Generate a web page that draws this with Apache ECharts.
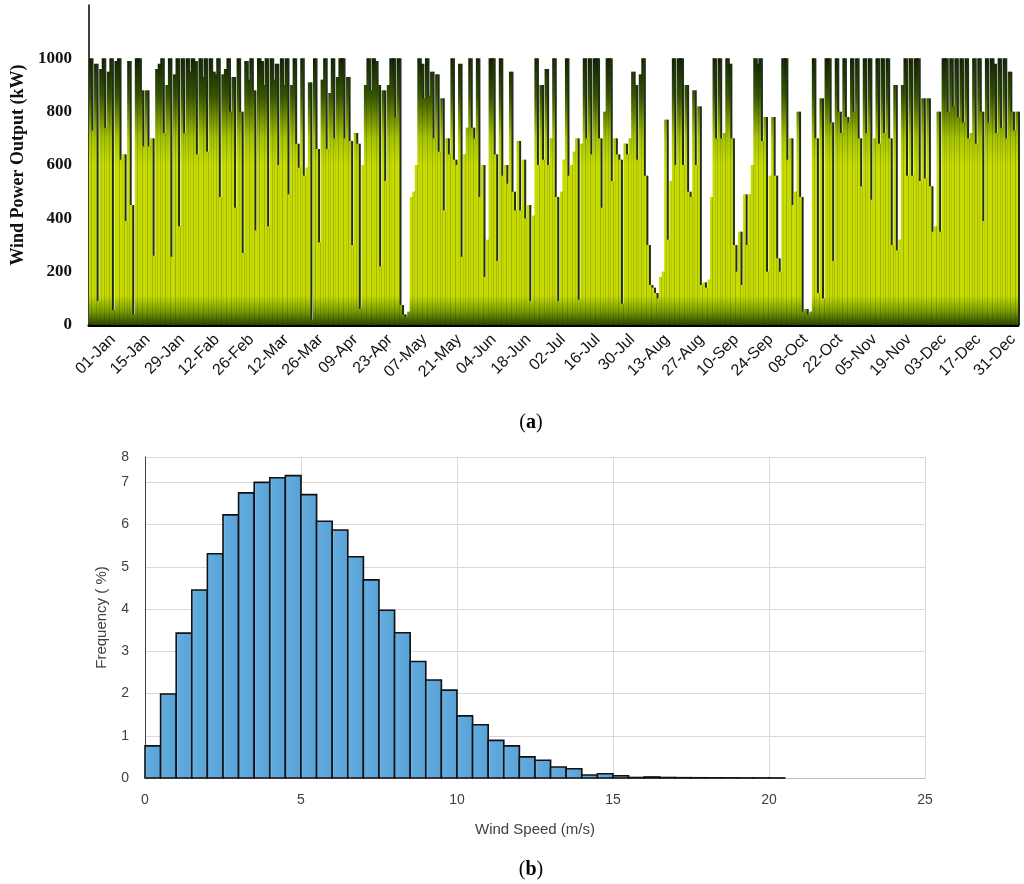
<!DOCTYPE html>
<html>
<head>
<meta charset="utf-8">
<title>Wind power output and wind speed distribution</title>
<script src="https://cdn.jsdelivr.net/npm/echarts@6/dist/echarts.min.js"></script>
<style>
  html, body { margin: 0; padding: 0; background: #fff; }
  #chart { width: 1024px; height: 884px; }
</style>
</head>
<body>
<div id="chart"></div>
<script>
// (a) daily wind power output, kW (one value per day)
var power = [
  1000, 730, 980, 90, 960, 1000, 740,
  950, 1000, 55, 990, 1000, 620, 640,
  390, 990, 450, 40, 1000, 1000, 880,
  670, 880, 670, 700, 260, 960, 980,
  1000, 720, 900, 1000, 256, 940, 1000,
  370, 1000, 720, 1000, 950, 1000, 990,
  640, 1000, 930, 1000, 650, 1000, 950,
  940, 1000, 480, 940, 960, 1000, 800,
  930, 440, 1000, 800, 270, 990, 920,
  1000, 880, 355, 1000, 990, 900, 1000,
  370, 1000, 920, 980, 600, 1000, 900,
  1000, 490, 900, 1000, 680, 590, 1000,
  560, 590, 910, 20, 1000, 660, 310,
  920, 1000, 660, 870, 1000, 700, 930,
  1000, 1000, 700, 930, 690, 300, 720,
  680, 60, 600, 900, 1000, 880, 1000,
  990, 900, 220, 880, 540, 900, 1000,
  1000, 780, 1000, 75, 40, 30, 50,
  480, 500, 600, 1000, 980, 850, 1000,
  860, 950, 700, 940, 650, 850, 430,
  700, 640, 1000, 620, 600, 980, 256,
  640, 740, 1000, 740, 700, 1000, 480,
  600, 180, 320, 1000, 1000, 640, 240,
  1000, 560, 600, 530, 950, 500, 430,
  690, 430, 620, 400, 450, 90, 410,
  1000, 600, 900, 620, 960, 600, 700,
  1000, 480, 90, 500, 620, 1000, 560,
  600, 650, 700, 95, 680, 1000, 700,
  1000, 640, 1000, 1000, 700, 440, 800,
  1000, 1000, 540, 700, 640, 620, 80,
  680, 640, 700, 950, 900, 620, 940,
  1000, 560, 300, 150, 140, 120, 100,
  180, 200, 770, 320, 540, 1000, 600,
  1000, 1000, 600, 900, 500, 480, 880,
  600, 820, 150, 160, 140, 170, 480,
  1000, 700, 1000, 700, 720, 1000, 980,
  700, 300, 200, 350, 150, 490, 300,
  490, 600, 1000, 980, 1000, 690, 780,
  200, 560, 780, 560, 250, 200, 1000,
  1000, 620, 700, 450, 500, 800, 480,
  50, 60, 40, 50, 1000, 700, 120,
  850, 100, 1000, 1000, 760, 240, 1000,
  800, 720, 1000, 780, 760, 1000, 800,
  1000, 700, 520, 1000, 720, 1000, 470,
  700, 1000, 680, 1000, 720, 1000, 700,
  300, 900, 280, 320, 900, 1000, 560,
  1000, 560, 1000, 1000, 540, 850, 550,
  850, 520, 350, 370, 800, 350, 1000,
  1000, 800, 1000, 820, 1000, 780, 1000,
  760, 1000, 700, 720, 1000, 680, 1000,
  800, 390, 1000, 760, 1000, 980, 720,
  1000, 740, 1000, 700, 950, 800, 730,
  800
];

// x tick labels of panel (a), as printed (including "12-Fab")
var dateLabels = ['01-Jan', '15-Jan', '29-Jan', '12-Fab', '26-Feb', '12-Mar', '26-Mar',
  '09-Apr', '23-Apr', '07-May', '21-May', '04-Jun', '18-Jun', '02-Jul', '16-Jul',
  '30-Jul', '13-Aug', '27-Aug', '10-Sep', '24-Sep', '08-Oct', '22-Oct', '05-Nov',
  '19-Nov', '03-Dec', '17-Dec', '31-Dec'];

// (b) wind speed histogram: lower bin edge (m/s) and frequency (%)
var speedBins = [0, 0.5, 1, 1.5, 2, 2.5, 3, 3.5, 4, 4.5, 5, 5.5, 6, 6.5, 7, 7.5, 8, 8.5, 9, 9.5,
  10, 10.5, 11, 11.5, 12, 12.5, 13, 13.5, 14, 14.5, 15, 15.5, 16, 16.5, 17, 17.5, 18, 18.5,
  19, 19.5, 20];
var frequency = [0.76, 1.99, 3.43, 4.45, 5.31, 6.23, 6.75, 7.0, 7.11, 7.16, 6.71, 6.08, 5.87,
  5.24, 4.69, 3.97, 3.44, 2.76, 2.32, 2.08, 1.47, 1.26, 0.89, 0.76, 0.5, 0.42, 0.26, 0.22,
  0.07, 0.1, 0.055, 0.012, 0.025, 0.012, 0.008, 0.006, 0.005, 0.004, 0.003, 0.003, 0.002];
var binWidth = 0.5;

// one category per day of the year
var monthNames = ['Jan', 'Feb', 'Mar', 'Apr', 'May', 'Jun', 'Jul', 'Aug', 'Sep', 'Oct', 'Nov', 'Dec'];
var days = [];
for (var i = 0; i < power.length; i++) {
  var d = new Date(2013, 0, 1 + i);
  days.push(('0' + d.getDate()).slice(-2) + '-' + monthNames[d.getMonth()]);
}

var histData = [];
for (var j = 0; j < speedBins.length; j++) {
  histData.push([speedBins[j], speedBins[j] + binWidth, frequency[j]]);
}

var chart = echarts.init(document.getElementById('chart'));

var greenFill = new echarts.graphic.LinearGradient(0, 58, 0, 325, [
  { offset: 0, color: '#0f1f00' },
  { offset: 0.14, color: '#365400' },
  { offset: 0.3, color: '#a8c400' },
  { offset: 0.4, color: '#c8dc00' },
  { offset: 0.89, color: '#c8dc00' },
  { offset: 0.95, color: '#789c00' },
  { offset: 1, color: '#284400' }
], true);

var blueFill = new echarts.graphic.LinearGradient(0, 0, 1, 0, [
  { offset: 0, color: '#8cc8ee' },
  { offset: 0.18, color: '#62abde' },
  { offset: 0.85, color: '#5aa3d7' },
  { offset: 1, color: '#3f86bd' }
]);

function renderBin(params, api) {
  var topLeft = api.coord([api.value(0), api.value(2)]);
  var bottomRight = api.coord([api.value(1), 0]);
  return {
    type: 'rect',
    shape: {
      x: topLeft[0],
      y: topLeft[1],
      width: bottomRight[0] - topLeft[0],
      height: bottomRight[1] - topLeft[1]
    },
    style: { fill: blueFill, stroke: '#111', lineWidth: 1.6 }
  };
}

var option = {
  animation: false,
  backgroundColor: '#fff',
  grid: [
    { left: 89, right: 6, top: 5, bottom: 559 },
    { left: 113, right: 11, top: 290, bottom: 557 },
    { left: 145, right: 99, top: 457, bottom: 106 }
  ],
  xAxis: [
    {
      gridIndex: 0,
      type: 'category',
      data: days,
      axisLine: { lineStyle: { color: '#000', width: 3 } },
      axisTick: { show: false },
      axisLabel: { show: false }
    },
    {
      gridIndex: 1,
      type: 'category',
      data: dateLabels,
      boundaryGap: false,
      axisLine: { show: false },
      axisTick: { show: false },
      axisLabel: {
        interval: 0,
        rotate: 45,
        margin: 10,
        fontSize: 16,
        fontFamily: 'Liberation Sans',
        color: '#111'
      }
    },
    {
      gridIndex: 2,
      type: 'value',
      min: 0,
      max: 25,
      interval: 5,
      name: 'Wind Speed (m/s)',
      nameLocation: 'middle',
      nameGap: 44,
      nameTextStyle: { fontSize: 15, fontFamily: 'Liberation Sans', color: '#404040' },
      axisLine: { lineStyle: { color: '#bfbfbf' } },
      axisTick: { show: false },
      axisLabel: { fontSize: 14, fontFamily: 'Liberation Sans', color: '#404040', margin: 15 },
      splitLine: { show: true, lineStyle: { color: '#d9d9d9' } }
    }
  ],
  yAxis: [
    {
      gridIndex: 0,
      type: 'value',
      min: 0,
      max: 1200,
      interval: 200,
      name: 'Wind Power Output (kW)',
      nameLocation: 'middle',
      nameRotate: 90,
      nameGap: 62,
      nameTextStyle: { fontSize: 18, fontWeight: 'bold', fontFamily: 'Liberation Serif', color: '#111' },
      axisLine: { show: true, lineStyle: { color: '#000', width: 1.5 } },
      axisTick: { show: false },
      axisLabel: {
        margin: 17,
        fontSize: 17,
        fontWeight: 'bold',
        fontFamily: 'Liberation Serif',
        color: '#111',
        formatter: function (v) { return v > 1000 ? '' : v; }
      },
      splitLine: { show: false }
    },
    { gridIndex: 1, type: 'value', show: false },
    {
      gridIndex: 2,
      type: 'value',
      min: 0,
      max: 7.6,
      interval: 1,
      name: 'Frequency ( %)',
      nameLocation: 'middle',
      nameRotate: 90,
      nameGap: 36,
      nameTextStyle: { fontSize: 15, fontFamily: 'Liberation Sans', color: '#404040' },
      axisLine: { show: true, lineStyle: { color: '#404040' } },
      axisTick: { show: false },
      axisLabel: {
        fontSize: 14,
        fontFamily: 'Liberation Sans',
        color: '#404040',
        margin: 16,
        formatter: function (v) { return v > 7.5 ? '8' : v; }
      },
      splitLine: { show: true, lineStyle: { color: '#d9d9d9' } }
    }
  ],
  series: [
    {
      name: 'Wind Power Output',
      type: 'bar',
      xAxisIndex: 0,
      yAxisIndex: 0,
      data: power,
      barCategoryGap: '0%',
      itemStyle: {
        color: greenFill,
        shadowColor: 'rgba(8, 24, 0, 0.9)',
        shadowOffsetX: 2,
        shadowBlur: 0
      }
    },
    {
      name: 'Frequency',
      type: 'custom',
      xAxisIndex: 2,
      yAxisIndex: 2,
      renderItem: renderBin,
      encode: { x: [0, 1], y: 2 },
      data: histData
    }
  ],
  graphic: [
    {
      type: 'text',
      x: 531,
      y: 423,
      style: {
        text: '{p|(}{b|a}{p|)}',
        align: 'center',
        verticalAlign: 'middle',
        rich: {
          p: { fontSize: 20, fontFamily: 'Liberation Serif', fill: '#000' },
          b: { fontSize: 20, fontFamily: 'Liberation Serif', fontWeight: 'bold', fill: '#000' }
        }
      }
    },
    {
      type: 'text',
      x: 531,
      y: 870,
      style: {
        text: '{p|(}{b|b}{p|)}',
        align: 'center',
        verticalAlign: 'middle',
        rich: {
          p: { fontSize: 20, fontFamily: 'Liberation Serif', fill: '#000' },
          b: { fontSize: 20, fontFamily: 'Liberation Serif', fontWeight: 'bold', fill: '#000' }
        }
      }
    }
  ]
};

chart.setOption(option);
</script>
</body>
</html>
